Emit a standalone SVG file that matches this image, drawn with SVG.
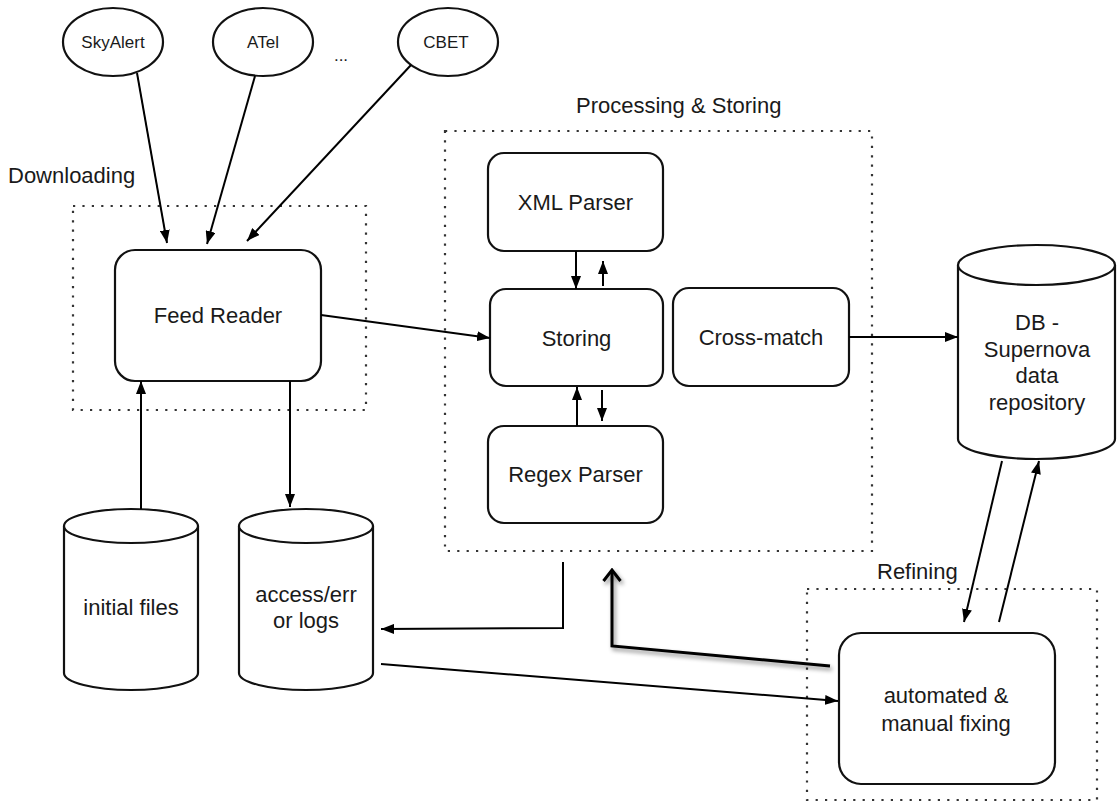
<svg xmlns="http://www.w3.org/2000/svg" width="1118" height="805" viewBox="0 0 1118 805">
  <defs>
    <style>
      .lbl { font-family: "Liberation Sans", Arial, sans-serif; font-size: 22px; fill: #1a1a1a; text-anchor: middle; }
      .src { font-family: "Liberation Sans", Arial, sans-serif; font-size: 17px; fill: #1a1a1a; text-anchor: middle; }
      .cap { font-family: "Liberation Sans", Arial, sans-serif; font-size: 22px; fill: #1a1a1a; }
      .shape { fill: #fff; stroke: #111; stroke-width: 2.2; }
      .group { fill: none; stroke: #333; stroke-width: 2.2; stroke-dasharray: 2.2 7.2; }
      .edge { fill: none; stroke: #000; stroke-width: 2; }
      .back { fill: none; stroke: #000; stroke-width: 3; stroke-linejoin: miter; }
    </style>
    <marker id="arr" viewBox="0 0 13 10" refX="13" refY="5" markerWidth="13" markerHeight="10" markerUnits="userSpaceOnUse" orient="auto">
      <path d="M0,0 L13,5 L0,10 z" fill="#000"/>
    </marker>
    <marker id="open" viewBox="0 0 14 20" refX="12" refY="10" markerWidth="14" markerHeight="20" markerUnits="userSpaceOnUse" orient="auto">
      <path d="M1,1.5 L12,10 L1,18.5" fill="none" stroke="#000" stroke-width="3"/>
    </marker>
    <filter id="shadow" x="-10%" y="-10%" width="130%" height="140%">
      <feDropShadow dx="2" dy="3" stdDeviation="2.2" flood-color="#000" flood-opacity="0.45"/>
    </filter>
  </defs>

  <!-- stage frames -->
  <g id="stage-downloading">
    <rect class="group" x="73" y="206" width="293" height="204"/>
    <text class="cap" x="8" y="183">Downloading</text>
  </g>
  <g id="stage-processing">
    <rect class="group" x="445" y="131" width="427" height="420"/>
    <text class="cap" x="576" y="113">Processing &amp; Storing</text>
  </g>
  <g id="stage-refining">
    <rect class="group" x="807" y="589" width="290" height="211"/>
    <text class="cap" x="877" y="579">Refining</text>
  </g>

  <!-- feed sources -->
  <g id="skyalert">
    <ellipse class="shape" cx="113" cy="42" rx="50" ry="34"/>
    <text class="src" x="113" y="48">SkyAlert</text>
  </g>
  <g id="atel">
    <ellipse class="shape" cx="263" cy="42" rx="50" ry="34"/>
    <text class="src" x="263" y="48">ATel</text>
  </g>
  <g id="more-sources">
    <text class="src" x="341" y="61">...</text>
  </g>
  <g id="cbet">
    <ellipse class="shape" cx="448" cy="42" rx="50" ry="34"/>
    <text class="src" x="446" y="48">CBET</text>
  </g>

  <!-- processing nodes -->
  <g id="feed-reader">
    <rect class="shape" x="115" y="250" width="206" height="131" rx="20"/>
    <text class="lbl" x="218" y="323">Feed Reader</text>
  </g>
  <g id="xml-parser">
    <rect class="shape" x="488" y="153" width="175" height="98" rx="16"/>
    <text class="lbl" x="575.5" y="210">XML Parser</text>
  </g>
  <g id="storing">
    <rect class="shape" x="490" y="289" width="173" height="97" rx="16"/>
    <text class="lbl" x="576.5" y="346">Storing</text>
  </g>
  <g id="cross-match">
    <rect class="shape" x="673" y="288" width="176" height="98" rx="16"/>
    <text class="lbl" x="761" y="345">Cross-match</text>
  </g>
  <g id="regex-parser">
    <rect class="shape" x="488" y="426" width="175" height="97" rx="16"/>
    <text class="lbl" x="575.5" y="482">Regex Parser</text>
  </g>
  <g id="fixing">
    <rect class="shape" x="839" y="633" width="216" height="151" rx="22"/>
    <text class="lbl" x="946" y="703">automated &amp;</text>
    <text class="lbl" x="946" y="731">manual fixing</text>
  </g>

  <!-- storage -->
  <g id="initial-files">
    <path class="shape" d="M64,526 V673 A67,17 0 0 0 198,673 V526"/>
    <ellipse class="shape" cx="131" cy="526" rx="67" ry="17"/>
    <text class="lbl" x="131" y="615">initial files</text>
  </g>
  <g id="logs">
    <path class="shape" d="M239,526 V673 A67,17 0 0 0 373,673 V526"/>
    <ellipse class="shape" cx="306" cy="526" rx="67" ry="17"/>
    <text class="lbl" x="306" y="602">access/err</text>
    <text class="lbl" x="306" y="628">or logs</text>
  </g>
  <g id="db">
    <path class="shape" d="M958,265 V439 A78.5,20 0 0 0 1115,439 V265"/>
    <ellipse class="shape" cx="1036.5" cy="265" rx="78.5" ry="20"/>
    <text class="lbl" x="1037" y="330">DB -</text>
    <text class="lbl" x="1037" y="357">Supernova</text>
    <text class="lbl" x="1037" y="383">data</text>
    <text class="lbl" x="1037" y="410">repository</text>
  </g>

  <!-- connectors -->
  <g id="connectors">
    <line class="edge" x1="137" y1="73" x2="167" y2="243" marker-end="url(#arr)"/>
    <line class="edge" x1="255" y1="76" x2="207" y2="244" marker-end="url(#arr)"/>
    <line class="edge" x1="411" y1="65" x2="247" y2="241" marker-end="url(#arr)"/>
    <line class="edge" x1="321" y1="315" x2="490" y2="338" marker-end="url(#arr)"/>
    <line class="edge" x1="849" y1="337" x2="958" y2="337" marker-end="url(#arr)"/>
    <line class="edge" x1="576" y1="251" x2="576" y2="289" marker-end="url(#arr)"/>
    <line class="edge" x1="603" y1="286" x2="603" y2="261" marker-end="url(#arr)"/>
    <line class="edge" x1="577" y1="426" x2="577" y2="387" marker-end="url(#arr)"/>
    <line class="edge" x1="602" y1="390" x2="602" y2="421" marker-end="url(#arr)"/>
    <line class="edge" x1="141" y1="509" x2="141" y2="381" marker-end="url(#arr)"/>
    <line class="edge" x1="290" y1="381" x2="290" y2="507" marker-end="url(#arr)"/>
    <polyline class="edge" points="563,562 563,628 381,629" marker-end="url(#arr)"/>
    <line class="edge" x1="381" y1="664" x2="838" y2="701" marker-end="url(#arr)"/>
    <line class="edge" x1="1002" y1="461" x2="964" y2="622" marker-end="url(#arr)"/>
    <line class="edge" x1="999" y1="622" x2="1039" y2="461" marker-end="url(#arr)"/>
    <polyline class="back" points="830,666 612,646 612,570" marker-end="url(#open)" filter="url(#shadow)"/>
  </g>
</svg>
